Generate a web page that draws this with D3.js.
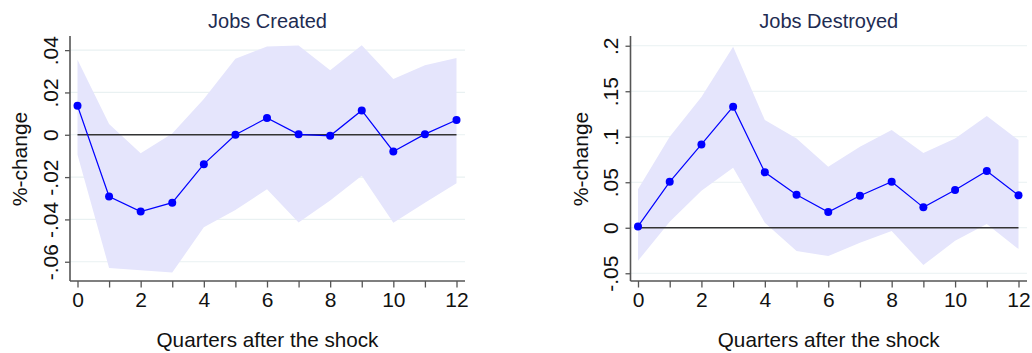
<!DOCTYPE html>
<html>
<head>
<meta charset="utf-8">
<script src="https://cdn.jsdelivr.net/npm/d3@7"></script>
<style>
  body { margin: 0; background: #fff; }
  svg text { font-family: "Liberation Sans", Arial, sans-serif; }
</style>
</head>
<body>
<svg id="chart" width="1032" height="353"></svg>
<script>
// quarters after the shock
const quarters = [0, 1, 2, 3, 4, 5, 6, 7, 8, 9, 10, 11, 12]
const xTicks = [0, 2, 4, 6, 8, 10, 12]

// jobs created: point estimate and confidence band
const createdIrf   = [0.0137, -0.0292, -0.0363, -0.0321, -0.0139, 0.0000, 0.0079, 0.0002, -0.0005, 0.0115, -0.0079, 0.0003, 0.0070]
const createdUpper = [0.0355, 0.0051, -0.0087, 0.0006, 0.0169, 0.0359, 0.0417, 0.0422, 0.0305, 0.0423, 0.0264, 0.0328, 0.0363]
const createdLower = [-0.0095, -0.0629, -0.0640, -0.0651, -0.0437, -0.0355, -0.0257, -0.0414, -0.0311, -0.0194, -0.0416, -0.0321, -0.0229]
const createdTicks = [-0.06, -0.04, -0.02, 0, 0.02, 0.04]
const createdTickLabels = ["-.06", "-.04", "-.02", "0", ".02", ".04"]

// jobs destroyed: point estimate and confidence band
const destroyedIrf   = [0.0015, 0.0505, 0.0915, 0.1330, 0.0610, 0.0363, 0.0173, 0.0352, 0.0505, 0.0224, 0.0414, 0.0623, 0.0356]
const destroyedUpper = [0.0422, 0.1000, 0.1437, 0.1990, 0.1183, 0.0982, 0.0670, 0.0890, 0.1073, 0.0821, 0.0982, 0.1227, 0.0963]
const destroyedLower = [-0.0363, 0.0066, 0.0407, 0.0660, 0.0055, -0.0256, -0.0311, -0.0165, -0.0036, -0.0410, -0.0143, 0.0041, -0.0234]
const destroyedTicks = [-0.05, 0, 0.05, 0.1, 0.15, 0.2]
const destroyedTickLabels = ["-.05", "0", ".05", ".1", ".15", ".2"]

const svg = d3.select("#chart")

function drawPanel(opts) {
  const left = opts.left, right = opts.right
  const top = 37, bottom = 281

  const x = d3.scaleLinear().domain([0, 12]).range([left + 7.5, right - 8.5])
  const y = d3.scaleLinear().domain(opts.yDomain).range([bottom, top])

  const g = svg.append("g")

  // grid
  g.selectAll(".grid")
    .data(opts.ticks)
    .enter()
    .append("line")
    .attr("x1", left)
    .attr("x2", right)
    .attr("y1", d => y(d))
    .attr("y2", d => y(d))
    .attr("stroke", "#e9f1f2")
    .attr("stroke-width", 1.2)

  const data = quarters.map((q, i) => ({ q: q, v: opts.irf[i], lo: opts.lower[i], hi: opts.upper[i] }))

  // confidence band
  g.append("path")
    .datum(data)
    .attr("fill", "#e5e5fc")
    .attr("d", d3.area().x(d => x(d.q)).y0(d => y(d.lo)).y1(d => y(d.hi)))

  // zero line
  g.append("line")
    .attr("x1", x(0))
    .attr("x2", x(12))
    .attr("y1", y(0))
    .attr("y2", y(0))
    .attr("stroke", "#333")
    .attr("stroke-width", 1.3)

  // irf line
  g.append("path")
    .datum(data)
    .attr("fill", "none")
    .attr("stroke", "#0000ff")
    .attr("stroke-width", 1.2)
    .attr("d", d3.line().x(d => x(d.q)).y(d => y(d.v)))

  g.selectAll(".dot")
    .data(data)
    .enter()
    .append("circle")
    .attr("cx", d => x(d.q))
    .attr("cy", d => y(d.v))
    .attr("r", 4)
    .attr("fill", "#0000ff")

  // x axis
  const xAxis = g.append("g")
    .attr("transform", "translate(0," + bottom + ")")
    .call(d3.axisBottom(x).tickValues(quarters).tickSize(6.5).tickFormat(d => xTicks.includes(d) ? d : ""))
  xAxis.select(".domain").attr("d", "M" + left + ",0H" + right).attr("stroke", "#555").attr("stroke-width", 1.6)
  xAxis.selectAll(".tick line").attr("stroke", "#555").attr("stroke-width", 1.3)
  xAxis.selectAll(".tick text")
    .attr("y", 25.5)
    .attr("dy", null)
    .attr("fill", "#111")
    .style("font-size", "21px")

  // y axis
  const yAxis = g.append("g")
    .attr("transform", "translate(" + left + ",0)")
    .call(d3.axisLeft(y).tickValues(opts.ticks).tickSize(5).tickFormat((d, i) => opts.tickLabels[i]))
  yAxis.select(".domain").attr("d", "M0," + (top - 1) + "V" + bottom).attr("stroke", "#555").attr("stroke-width", 1.6)
  yAxis.selectAll(".tick line").attr("stroke", "#555").attr("stroke-width", 1.3)
  yAxis.selectAll(".tick text")
    .attr("x", null)
    .attr("dy", null)
    .attr("transform", "translate(-12.5,0) rotate(-90)")
    .attr("text-anchor", "middle")
    .attr("fill", "#111")
    .style("font-size", "21px")

  // titles
  g.append("text")
    .attr("x", (left + right) / 2)
    .attr("y", 27.5)
    .attr("text-anchor", "middle")
    .attr("fill", "#1e2c52")
    .style("font-size", "20px")
    .text(opts.title)

  g.append("text")
    .attr("transform", "translate(" + (left - 43) + "," + ((top + bottom) / 2) + ") rotate(-90)")
    .attr("text-anchor", "middle")
    .attr("fill", "#111")
    .style("font-size", "21px")
    .text("%-change")

  g.append("text")
    .attr("x", (left + right) / 2)
    .attr("y", 347)
    .attr("text-anchor", "middle")
    .attr("fill", "#111")
    .style("font-size", "20.7px")
    .text("Quarters after the shock")
}

drawPanel({
  left: 70, right: 465,
  yDomain: [-0.0691, 0.0462],
  irf: createdIrf, upper: createdUpper, lower: createdLower,
  ticks: createdTicks, tickLabels: createdTickLabels,
  title: "Jobs Created"
})

drawPanel({
  left: 630.5, right: 1027,
  yDomain: [-0.0585, 0.2096],
  irf: destroyedIrf, upper: destroyedUpper, lower: destroyedLower,
  ticks: destroyedTicks, tickLabels: destroyedTickLabels,
  title: "Jobs Destroyed"
})
</script>
</body>
</html>
